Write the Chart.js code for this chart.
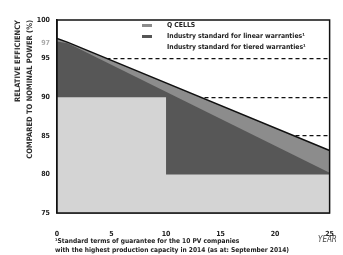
<!DOCTYPE html>
<html>
<head>
<meta charset="utf-8">
<script src="https://cdn.jsdelivr.net/npm/chart.js@4"></script>
<style>
  body { margin: 0; background: #fff; }
  #wrap { position: relative; width: 343px; height: 255px; font-family: "DejaVu Sans Condensed", "Liberation Sans", Arial, sans-serif; font-weight: bold; color: #222; }
  #legende { position: absolute; left: 142px; top: 20px; font-size: 6.8px; line-height: 11px; }
  #legende .row { display: flex; align-items: center; }
  #legende .sw { width: 10px; height: 3px; margin-right: 15px; }
  #catatan { position: absolute; left: 55px; top: 237px; font-size: 6.6px; line-height: 9px; white-space: nowrap; }
  #judulX { position: absolute; left: 318px; top: 235px; font-size: 8px; font-style: italic; font-weight: normal; color: #444; }
</style>
</head>
<body>
<div id="wrap">
  <canvas id="grafik" width="343" height="255"></canvas>
  <div id="legende">
    <div class="row"><span class="sw" style="background:#8c8c8c"></span>Q CELLS</div>
    <div class="row"><span class="sw" style="background:#555"></span>Industry standard for linear warranties¹</div>
    <div class="row"><span class="sw" style="background:transparent"></span>Industry standard for tiered warranties¹</div>
  </div>
  <div id="judulX">YEAR</div>
  <div id="catatan">¹Standard terms of guarantee for the 10 PV companies<br>with the highest production capacity in 2014 (as at: September 2014)</div>
</div>
<script>
// =================
// DATA
// =================
let qcellsTahun = [0, 1, 25];
let qcellsNilai = [97.6, 97.1, 83.1];

let linearTahun = [0, 1, 25];
let linearNilai = [97.2, 97, 80.2];

let tieredTahun = [0, 10, 10, 25];
let tieredNilai = [90, 90, 80, 80];

let tickY = [75, 80, 85, 90, 95, 97, 100];
let tickX = [0, 5, 10, 15, 20, 25];

const hurufTick = { family: "DejaVu Sans Condensed", size: 7, weight: "bold" };

function jadiTitik(xs, ys) {
    return xs.map((x, i) => ({ x: x, y: ys[i] }));
}

// kotak plot (garis tepi kanan & atas)
const bingkai = {
    id: "bingkai",
    afterDraw(chart) {
        let a = chart.chartArea;
        let ctx = chart.ctx;
        ctx.save();
        ctx.strokeStyle = "#111";
        ctx.lineWidth = 1.5;
        ctx.setLineDash([]);
        ctx.strokeRect(a.left, a.top, a.right - a.left, a.bottom - a.top);
        ctx.restore();
    }
};

let ctx = document.getElementById("grafik").getContext("2d");
new Chart(ctx, {
    type: "line",
    data: {
        datasets: [
            {
                label: "Industry standard for tiered warranties",
                data: jadiTitik(tieredTahun, tieredNilai),
                backgroundColor: "#d4d4d4",
                borderWidth: 0,
                fill: "start",
                pointRadius: 0,
                order: 0
            },
            {
                label: "Industry standard for linear warranties",
                data: jadiTitik(linearTahun, linearNilai),
                backgroundColor: "#575757",
                borderWidth: 0,
                fill: "start",
                pointRadius: 0,
                order: 1
            },
            {
                label: "Q CELLS",
                data: jadiTitik(qcellsTahun, qcellsNilai),
                backgroundColor: "#8c8c8c",
                borderColor: "#111",
                borderWidth: 1.5,
                fill: "start",
                pointRadius: 0,
                order: 2
            }
        ]
    },
    options: {
        responsive: false,
        animation: false,
        layout: { padding: { left: 12, top: 20, right: 6, bottom: 0 } },
        plugins: { legend: { display: false }, tooltip: { enabled: false } },
        scales: {
            x: {
                type: "linear",
                min: 0,
                max: 25,
                afterBuildTicks: s => { s.ticks = tickX.map(v => ({ value: v })); },
                afterFit: s => { s.height = 42; },
                grid: { display: false },
                border: { color: "#111", width: 1.5 },
                ticks: { padding: 9, color: "#222", font: hurufTick }
            },
            y: {
                min: 75,
                max: 100,
                afterBuildTicks: s => { s.ticks = tickY.map(v => ({ value: v })); },
                afterFit: s => { s.width = 45; },
                border: { color: "#111", width: 1.5, dash: [4, 3] },
                grid: {
                    drawTicks: false,
                    color: c => [85, 90, 95].includes(c.tick.value) ? "#111" : "rgba(0,0,0,0)",
                    lineWidth: 1.2
                },
                ticks: {
                    padding: 7,
                    color: c => c.tick.value === 97 ? "#aaa" : "#222",
                    font: hurufTick
                },
                title: {
                    display: true,
                    text: ["RELATIVE EFFICIENCY", "COMPARED TO NOMINAL POWER (%)"],
                    align: "end",
                    color: "#333",
                    padding: 0,
                    font: { family: "DejaVu Sans Condensed", size: 7.5, weight: "bold", lineHeight: 1.6 }
                }
            }
        }
    },
    plugins: [bingkai]
});
</script>
</body>
</html>
